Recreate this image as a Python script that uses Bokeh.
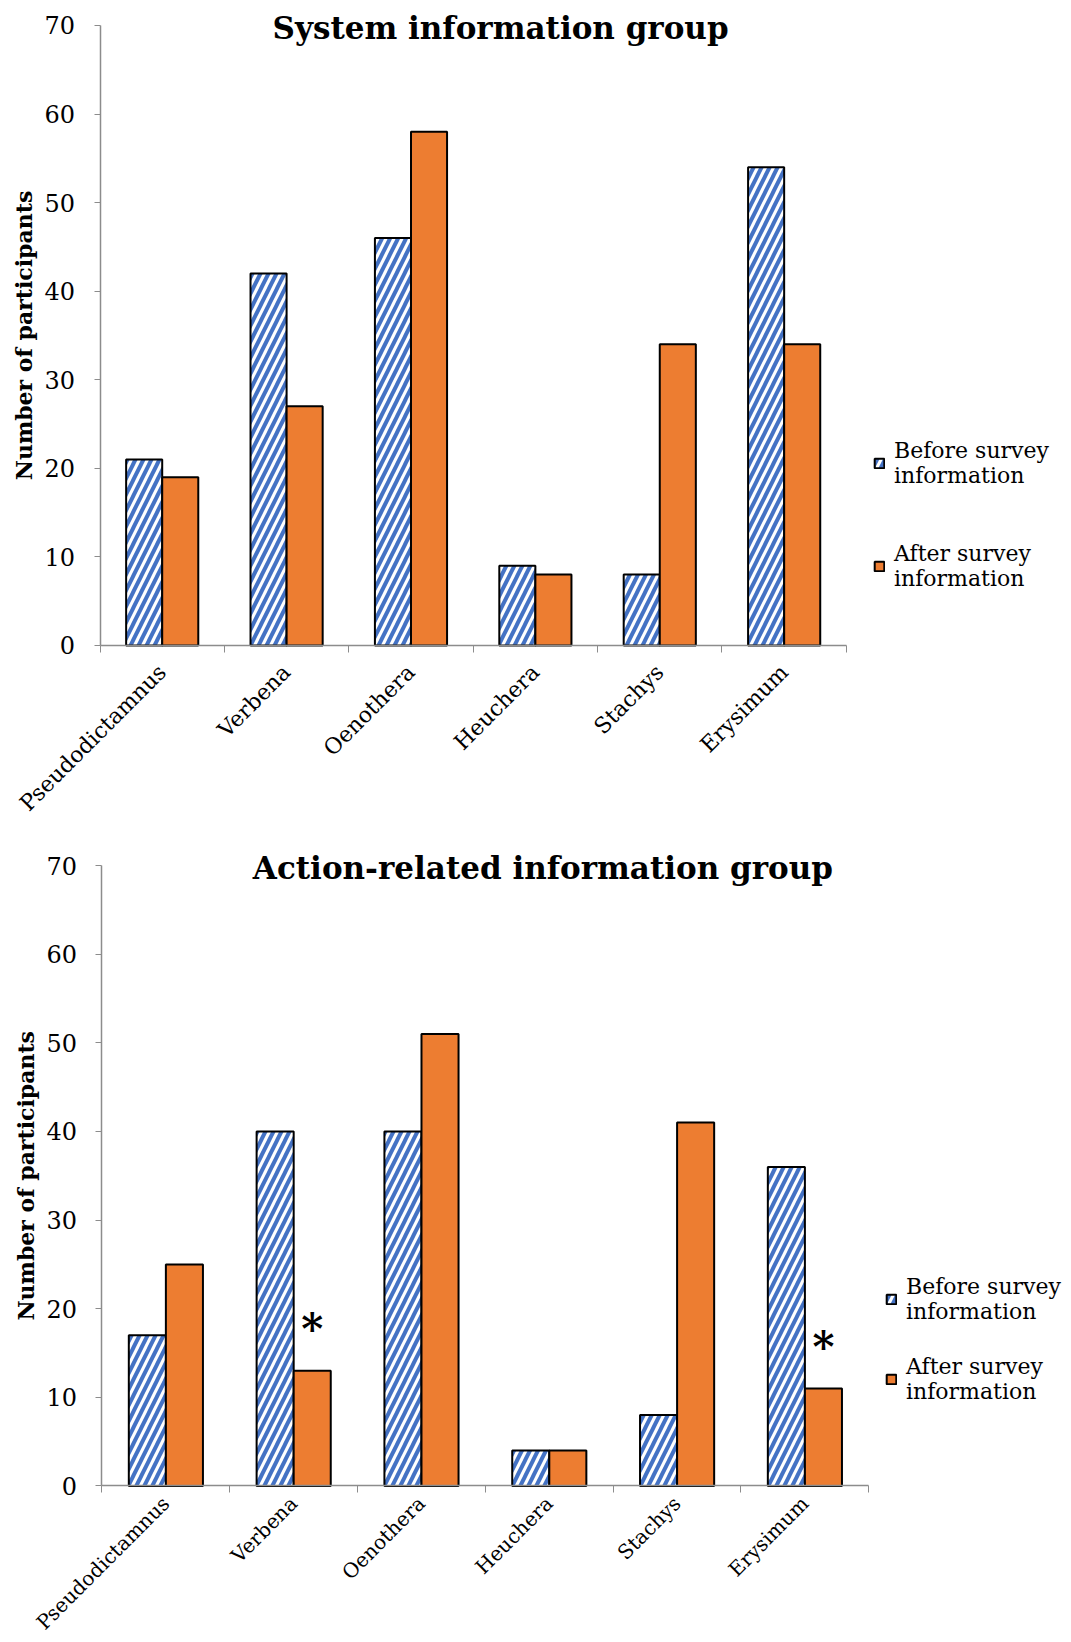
import math
from bokeh.plotting import figure
from bokeh.models import (ColumnDataSource, Range1d, FixedTicker, Legend, LegendItem,
                          Label)
from bokeh.layouts import column
from bokeh.embed import file_html
from bokeh.resources import INLINE
from bokeh.core.properties import value

genera = ["Pseudodictamnus", "Verbena", "Oenothera", "Heuchera", "Stachys", "Erysimum"]

system_before = [21, 42, 46, 9, 8, 54]
system_after = [19, 27, 58, 8, 34, 34]

action_before = [17, 40, 40, 4, 8, 36]
action_after = [25, 13, 51, 4, 41, 11]
action_significant = [False, True, False, False, False, True]

y_ticks = [0, 10, 20, 30, 40, 50, 60, 70]
Y_MAX = 70

FONT = "DejaVu Serif"
BLUE = "#4472C4"
ORANGE = "#ED7D31"
AXIS_GREY = "#8C8C8C"
BAR_W = 0.29


def panel(title, title_x, before, after, height, x_span, y_span, ylabel_x,
          legend_loc, legend_gap, cat_font="22px", cat_standoff=16, stars=None):
    n = len(genera)
    # the frame fills the whole canvas; both axes are pinned at zero so that the
    # tick labels, titles and legend all live inside it
    p = figure(width=1071, height=height, output_backend="svg", toolbar_location=None,
               x_range=Range1d(*x_span), y_range=Range1d(*y_span),
               min_border_left=0, min_border_right=0,
               min_border_top=0, min_border_bottom=0)
    p.outline_line_color = None
    p.xgrid.visible = False
    p.ygrid.visible = False
    p.background_fill_color = "white"
    p.border_fill_color = "white"

    centers = [i + 0.5 for i in range(n)]
    src = ColumnDataSource(dict(
        xb=[c - BAR_W / 2 for c in centers],
        xa=[c + BAR_W / 2 for c in centers],
        before=before, after=after))

    rb = p.vbar(x="xb", top="before", bottom=0, width=BAR_W, source=src,
                fill_color="white", line_color="black", line_width=2,
                hatch_pattern="/", hatch_color=BLUE, hatch_weight=4, hatch_scale=16)
    ra = p.vbar(x="xa", top="after", bottom=0, width=BAR_W, source=src,
                fill_color=ORANGE, line_color="black", line_width=2)

    # x axis: ticks on the category boundaries, names at the centres
    xa = p.xaxis[0]
    xa.fixed_location = 0
    xa.bounds = (0, n)
    xa.ticker = FixedTicker(ticks=centers, minor_ticks=list(range(n + 1)))
    xa.major_label_overrides = {c: g for c, g in zip(centers, genera)}
    xa.major_tick_line_color = None
    xa.minor_tick_line_color = AXIS_GREY
    xa.minor_tick_out = 7
    xa.minor_tick_in = 0
    xa.axis_line_color = AXIS_GREY
    xa.axis_line_width = 1.5
    xa.major_label_orientation = math.pi / 4
    xa.major_label_text_font = FONT
    xa.major_label_text_font_size = cat_font
    xa.major_label_text_color = "black"
    xa.major_label_standoff = cat_standoff

    ya = p.yaxis[0]
    ya.fixed_location = 0
    ya.bounds = (0, Y_MAX)
    ya.ticker = FixedTicker(ticks=y_ticks)
    ya.minor_tick_line_color = None
    ya.major_tick_line_color = AXIS_GREY
    ya.major_tick_out = 6
    ya.major_tick_in = 0
    ya.axis_line_color = AXIS_GREY
    ya.axis_line_width = 1.5
    ya.major_label_text_font = FONT
    ya.major_label_text_font_size = "24px"
    ya.major_label_text_color = "black"
    ya.major_label_standoff = 19

    # y axis title, centred on the 0-70 span
    p.add_layout(Label(x=ylabel_x, y=Y_MAX / 2, text="Number of participants",
                       angle=math.pi / 2, text_font=FONT, text_font_style="bold",
                       text_font_size="22px", text_align="center",
                       text_baseline="middle", text_color="black"))

    p.add_layout(Label(x=title_x, y=Y_MAX - 0.3, text=title, text_font=FONT,
                       text_font_style="bold", text_font_size="31px",
                       text_align="center", text_baseline="middle", text_color="black"))

    if stars is not None:
        sx = [c + BAR_W / 2 for c, s in zip(centers, stars) if s]
        sy = [a + 4.6 for a, s in zip(after, stars) if s]
        p.text(x=sx, y=sy, text=["*"] * len(sx), text_font=value(FONT),
               text_font_style="bold", text_font_size="42px",
               text_align="center", text_baseline="middle", text_color="black")

    legend = Legend(items=[LegendItem(label="Before survey\ninformation", renderers=[rb]),
                           LegendItem(label="After survey\ninformation", renderers=[ra])],
                    location=legend_loc, border_line_color=None,
                    background_fill_alpha=0, padding=0, margin=0,
                    spacing=legend_gap, glyph_width=12, glyph_height=12,
                    label_text_font=FONT, label_text_font_size="22px",
                    label_text_color="black",
                    label_text_line_height=1.35, label_standoff=9)
    p.add_layout(legend, "center")
    return p


top = panel("System information group", 3.22, system_before, system_after, 820,
            (-0.80, 7.81), (-19.76, 72.82), -0.615, (873, 229), 53)
bottom = panel("Action-related information group", 3.45, action_before, action_after, 822,
               (-0.794, 7.586), (-17.66, 75.08), -0.591, (885, 238), 30,
               cat_font="20px", cat_standoff=7, stars=action_significant)

layout = column(top, bottom, spacing=0)
open("out.html", "w").write(file_html(layout, INLINE))
